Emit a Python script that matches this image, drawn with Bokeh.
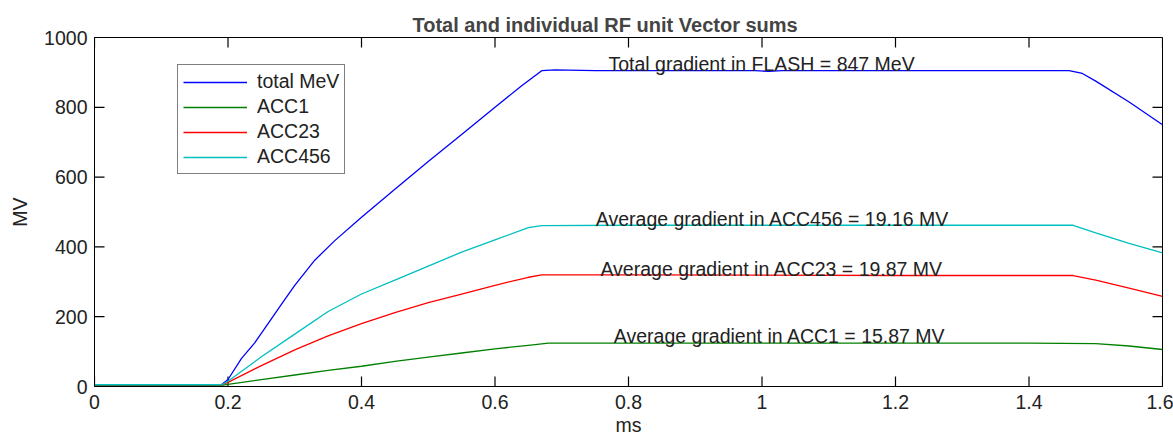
from bokeh.plotting import figure
from bokeh.models import Range1d, FixedTicker, Legend, LegendItem, ColumnDataSource
from bokeh.core.properties import value
from bokeh.embed import file_html
from bokeh.resources import INLINE

# ---- data ----
t_total = [0, 0.19, 0.20, 0.22, 0.24, 0.26, 0.28, 0.30, 0.33, 0.36, 0.40, 0.45, 0.50, 0.55, 0.60, 0.64, 0.67,
           0.69, 0.75, 0.85, 0.99, 1.01, 1.03, 1.10, 1.30, 1.46, 1.48, 1.50, 1.55, 1.60]
v_total = [5, 5, 20, 80, 125, 180, 235, 290, 362, 418, 485, 565, 645, 722, 800, 862, 905,
           907, 905, 905, 905, 903, 905, 905, 905, 905, 897, 875, 815, 750]

t_acc1 = [0, 0.19, 0.20, 0.25, 0.30, 0.35, 0.40, 0.45, 0.50, 0.55, 0.60, 0.65, 0.68, 0.80, 1.00, 1.20, 1.40, 1.50, 1.55, 1.60]
v_acc1 = [3, 3, 6, 20, 33, 46, 58, 72, 84, 96, 108, 118, 124, 124, 124, 124, 124, 123, 116, 106]

t_acc23 = [0, 0.19, 0.20, 0.25, 0.30, 0.35, 0.40, 0.45, 0.50, 0.55, 0.60, 0.65, 0.67, 0.80, 1.00, 1.20, 1.40, 1.466, 1.50, 1.55, 1.60]
v_acc23 = [5, 5, 12, 60, 105, 145, 180, 212, 240, 265, 290, 313, 320, 320, 319, 318, 318, 318, 305, 282, 258]

t_acc456 = [0, 0.19, 0.20, 0.25, 0.30, 0.35, 0.40, 0.45, 0.50, 0.55, 0.60, 0.65, 0.67, 0.80, 1.00, 1.20, 1.40, 1.466, 1.50, 1.55, 1.60]
v_acc456 = [5, 5, 15, 85, 150, 215, 265, 305, 345, 385, 420, 455, 461, 462, 462, 462, 462, 462, 440, 410, 383]

series_names = ["total MeV", "ACC1", "ACC23", "ACC456"]
series_colors = ["#0000ff", "#008000", "#ff0000", "#00bfbf"]

x_ticks = [0, 0.2, 0.4, 0.6, 0.8, 1.0, 1.2, 1.4, 1.6]
x_tick_labels = ["0", "0.2", "0.4", "0.6", "0.8", "1", "1.2", "1.4", "1.6"]
y_ticks = [0, 200, 400, 600, 800, 1000]
y_tick_labels = ["0", "200", "400", "600", "800", "1000"]

annotation_texts = ["Total gradient in FLASH = 847 MeV",
                    "Average gradient in ACC456 = 19.16 MV",
                    "Average gradient in ACC23 = 19.87 MV",
                    "Average gradient in ACC1 = 15.87 MV"]

FONT = "Liberation Sans"
FS = "19.5px"
X0, X1, Y0, Y1 = 0, 1.6, 0, 1000
W, H = 1173, 438
BL, BR, BT, BB = 94, 11, 37, 52

p = figure(width=W, height=H, output_backend="svg", toolbar_location=None,
           x_range=Range1d(X0, X1), y_range=Range1d(Y0, Y1),
           min_border_left=BL, min_border_right=BR, min_border_top=BT, min_border_bottom=BB,
           title="Total and individual RF unit Vector sums")
p.background_fill_color = "white"
p.border_fill_color = "white"
p.outline_line_color = "black"
p.outline_line_width = 1
p.xgrid.visible = False
p.ygrid.visible = False

p.title.text_font = FONT
p.title.text_font_size = "20px"
p.title.text_font_style = "bold"
p.title.align = "left"
p.title.offset = 318
p.title.standoff = 4

for ax in [p.xaxis[0], p.yaxis[0]]:
    ax.major_tick_in = 0
    ax.major_tick_out = 0
    ax.minor_tick_line_color = None
    ax.axis_line_color = "black"
    ax.major_label_text_font = FONT
    ax.major_label_text_font_size = FS
    ax.major_label_text_color = "#222222"
    ax.axis_label_text_font = FONT
    ax.axis_label_text_font_size = FS
    ax.axis_label_text_font_style = "normal"
    ax.axis_label_text_color = "#222222"

p.xaxis.ticker = FixedTicker(ticks=x_ticks)
p.xaxis.major_label_overrides = dict(zip(x_ticks, x_tick_labels))
p.yaxis.ticker = FixedTicker(ticks=y_ticks)
p.yaxis.major_label_overrides = dict(zip(y_ticks, y_tick_labels))
p.xaxis.axis_label = "ms"
p.yaxis.axis_label = "MV"
p.xaxis.major_label_standoff = 8
p.xaxis.axis_label_standoff = 2
p.yaxis.major_label_standoff = 7
p.yaxis.axis_label_standoff = 10

# inward tick marks on all four sides, 10 screen px long (converted to data units)
TL = 10
dx = TL * (X1 - X0) / (W - BL - BR)
dy = TL * (Y1 - Y0) / (H - BT - BB)
nx, ny = len(x_ticks), len(y_ticks)
tick_style = dict(line_color="black", line_width=1.2)
p.segment(x0=x_ticks, y0=[Y0] * nx, x1=x_ticks, y1=[Y0 + dy] * nx, **tick_style)
p.segment(x0=x_ticks, y0=[Y1] * nx, x1=x_ticks, y1=[Y1 - dy] * nx, **tick_style)
p.segment(x0=[X0] * ny, y0=y_ticks, x1=[X0 + dx] * ny, y1=y_ticks, **tick_style)
p.segment(x0=[X1] * ny, y0=y_ticks, x1=[X1 - dx] * ny, y1=y_ticks, **tick_style)

data = [(t_total, v_total), (t_acc1, v_acc1), (t_acc23, v_acc23), (t_acc456, v_acc456)]
items = []
for (tt, vv), name, col in zip(data, series_names, series_colors):
    r = p.line(tt, vv, line_color=col, line_width=1.3)
    items.append(LegendItem(label=name, renderers=[r]))

legend = Legend(items=items, location=(83, 212))
legend.border_line_color = "black"
legend.border_line_width = 1
legend.background_fill_color = "white"
legend.background_fill_alpha = 1
legend.label_text_font = FONT
legend.label_text_font_size = FS
legend.label_text_color = "#222222"
legend.glyph_width = 64
legend.glyph_height = 20
legend.label_height = 20
legend.spacing = 2
legend.padding = 5
legend.label_standoff = 10
legend.margin = 0
p.add_layout(legend, "center")

ann_x = [0.770, 0.751, 0.758, 0.778]
ann_y = [925, 479, 336, 144]
src = ColumnDataSource(dict(x=ann_x, y=ann_y, text=annotation_texts))
p.text(x="x", y="y", text="text", source=src, text_font=value(FONT), text_font_size=FS,
       text_color="#222222", text_baseline="alphabetic", text_align="left")

open("out.html", "w").write(file_html(p, INLINE))
